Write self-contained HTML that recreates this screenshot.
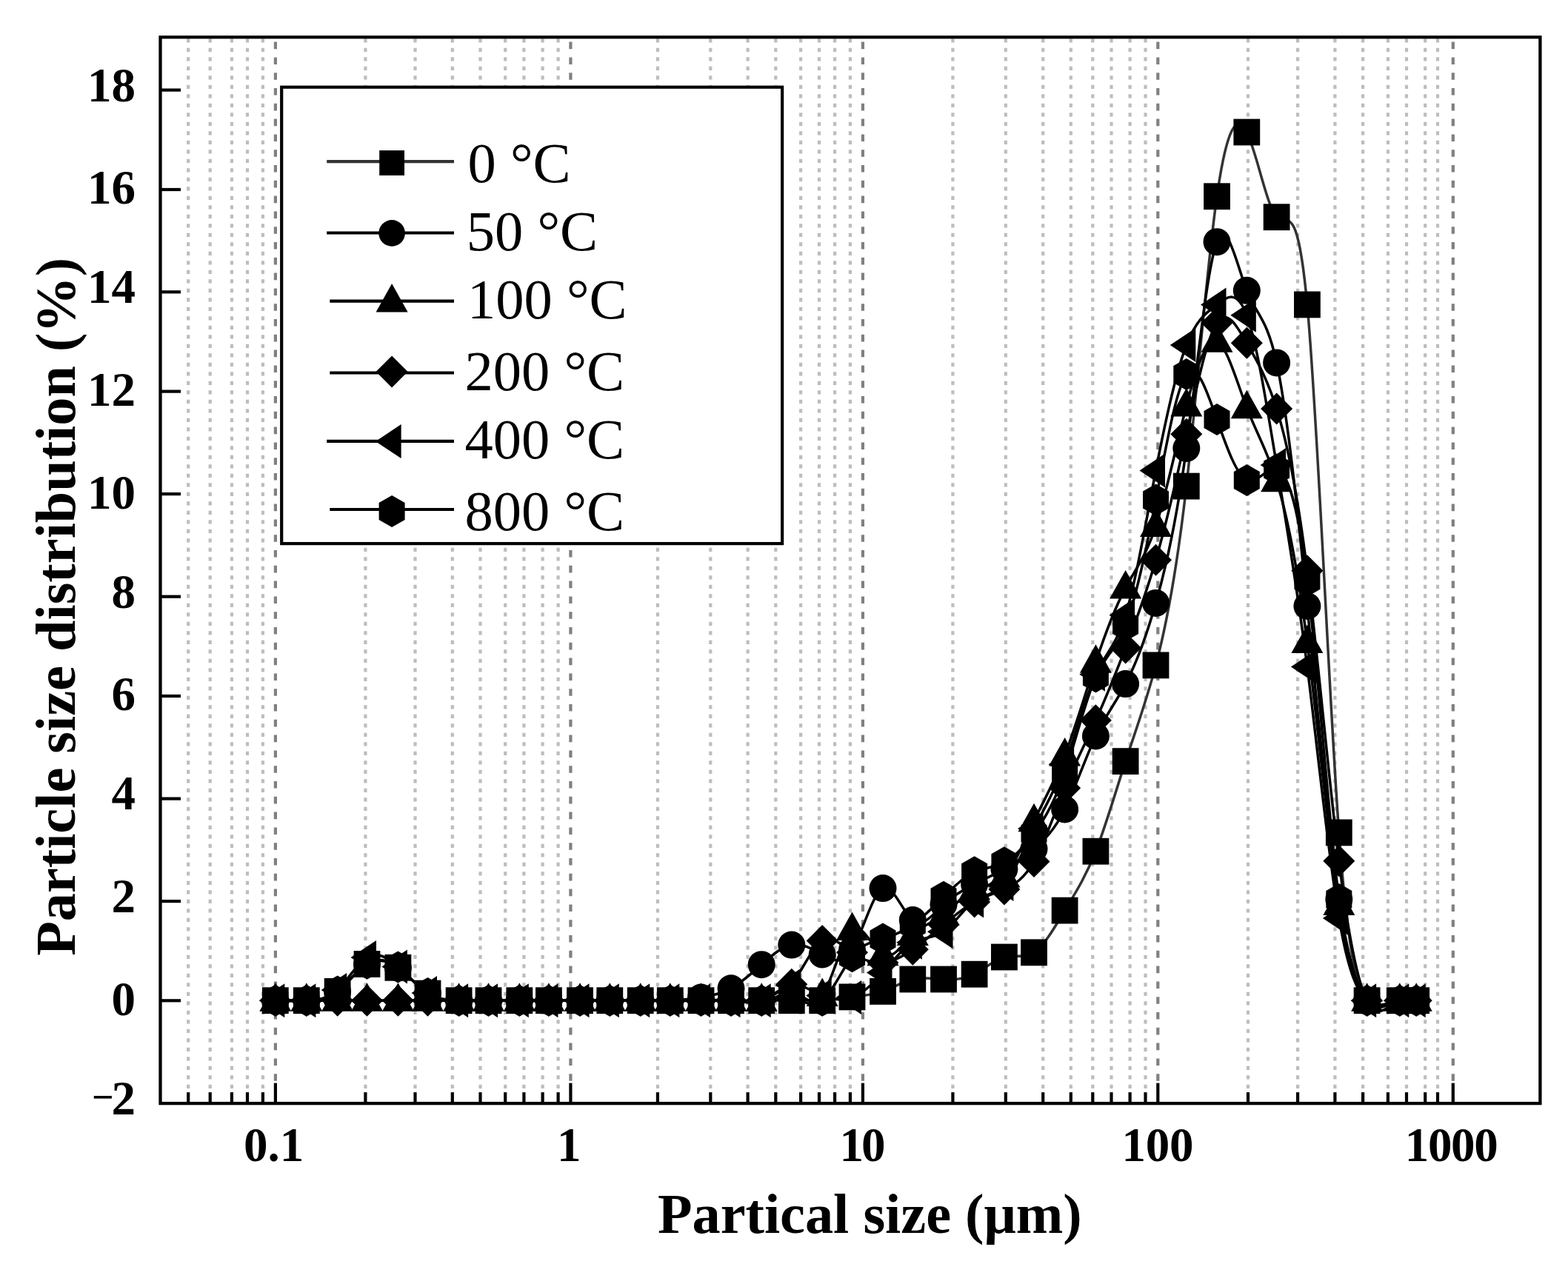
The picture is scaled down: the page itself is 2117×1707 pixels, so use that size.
<!DOCTYPE html>
<html lang="en">
<head>
<meta charset="utf-8">
<title>Particle size distribution</title>
<style>
html,body{margin:0;padding:0;background:#fff;}
body{width:2117px;height:1707px;overflow:hidden;}
svg{display:block;}
</style>
</head>
<body>
<svg width="2117" height="1707" viewBox="0 0 2117 1707">
<rect x="0" y="0" width="2117" height="1707" fill="#fff"/>
<g id="grid" fill="none" stroke-width="4.2">
<line x1="254.2" y1="52.2" x2="254.2" y2="1476.1" stroke="#bdbdbd" stroke-dasharray="5.4 7.1"/>
<line x1="283.7" y1="52.2" x2="283.7" y2="1476.1" stroke="#bdbdbd" stroke-dasharray="5.4 7.1"/>
<line x1="312.9" y1="52.2" x2="312.9" y2="1476.1" stroke="#bdbdbd" stroke-dasharray="5.4 7.1"/>
<line x1="334.0" y1="52.2" x2="334.0" y2="1476.1" stroke="#bdbdbd" stroke-dasharray="5.4 7.1"/>
<line x1="354.9" y1="52.2" x2="354.9" y2="1476.1" stroke="#bdbdbd" stroke-dasharray="5.4 7.1"/>
<line x1="493.4" y1="52.2" x2="493.4" y2="1476.1" stroke="#bdbdbd" stroke-dasharray="5.4 7.1"/>
<line x1="560.5" y1="52.2" x2="560.5" y2="1476.1" stroke="#bdbdbd" stroke-dasharray="5.4 7.1"/>
<line x1="610.8" y1="52.2" x2="610.8" y2="1476.1" stroke="#bdbdbd" stroke-dasharray="5.4 7.1"/>
<line x1="648.5" y1="52.2" x2="648.5" y2="1476.1" stroke="#bdbdbd" stroke-dasharray="5.4 7.1"/>
<line x1="682.2" y1="52.2" x2="682.2" y2="1476.1" stroke="#bdbdbd" stroke-dasharray="5.4 7.1"/>
<line x1="707.4" y1="52.2" x2="707.4" y2="1476.1" stroke="#bdbdbd" stroke-dasharray="5.4 7.1"/>
<line x1="732.6" y1="52.2" x2="732.6" y2="1476.1" stroke="#bdbdbd" stroke-dasharray="5.4 7.1"/>
<line x1="753.6" y1="52.2" x2="753.6" y2="1476.1" stroke="#bdbdbd" stroke-dasharray="5.4 7.1"/>
<line x1="887.9" y1="52.2" x2="887.9" y2="1476.1" stroke="#bdbdbd" stroke-dasharray="5.4 7.1"/>
<line x1="959.3" y1="52.2" x2="959.3" y2="1476.1" stroke="#bdbdbd" stroke-dasharray="5.4 7.1"/>
<line x1="1009.6" y1="52.2" x2="1009.6" y2="1476.1" stroke="#bdbdbd" stroke-dasharray="5.4 7.1"/>
<line x1="1047.3" y1="52.2" x2="1047.3" y2="1476.1" stroke="#bdbdbd" stroke-dasharray="5.4 7.1"/>
<line x1="1081.1" y1="52.2" x2="1081.1" y2="1476.1" stroke="#bdbdbd" stroke-dasharray="5.4 7.1"/>
<line x1="1106.0" y1="52.2" x2="1106.0" y2="1476.1" stroke="#bdbdbd" stroke-dasharray="5.4 7.1"/>
<line x1="1127.1" y1="52.2" x2="1127.1" y2="1476.1" stroke="#bdbdbd" stroke-dasharray="5.4 7.1"/>
<line x1="1147.9" y1="52.2" x2="1147.9" y2="1476.1" stroke="#bdbdbd" stroke-dasharray="5.4 7.1"/>
<line x1="1286.4" y1="52.2" x2="1286.4" y2="1476.1" stroke="#bdbdbd" stroke-dasharray="5.4 7.1"/>
<line x1="1357.8" y1="52.2" x2="1357.8" y2="1476.1" stroke="#bdbdbd" stroke-dasharray="5.4 7.1"/>
<line x1="1408.2" y1="52.2" x2="1408.2" y2="1476.1" stroke="#bdbdbd" stroke-dasharray="5.4 7.1"/>
<line x1="1445.8" y1="52.2" x2="1445.8" y2="1476.1" stroke="#bdbdbd" stroke-dasharray="5.4 7.1"/>
<line x1="1475.3" y1="52.2" x2="1475.3" y2="1476.1" stroke="#bdbdbd" stroke-dasharray="5.4 7.1"/>
<line x1="1500.5" y1="52.2" x2="1500.5" y2="1476.1" stroke="#bdbdbd" stroke-dasharray="5.4 7.1"/>
<line x1="1525.6" y1="52.2" x2="1525.6" y2="1476.1" stroke="#bdbdbd" stroke-dasharray="5.4 7.1"/>
<line x1="1546.5" y1="52.2" x2="1546.5" y2="1476.1" stroke="#bdbdbd" stroke-dasharray="5.4 7.1"/>
<line x1="1685.0" y1="52.2" x2="1685.0" y2="1476.1" stroke="#bdbdbd" stroke-dasharray="5.4 7.1"/>
<line x1="1752.1" y1="52.2" x2="1752.1" y2="1476.1" stroke="#bdbdbd" stroke-dasharray="5.4 7.1"/>
<line x1="1802.4" y1="52.2" x2="1802.4" y2="1476.1" stroke="#bdbdbd" stroke-dasharray="5.4 7.1"/>
<line x1="1840.1" y1="52.2" x2="1840.1" y2="1476.1" stroke="#bdbdbd" stroke-dasharray="5.4 7.1"/>
<line x1="1873.9" y1="52.2" x2="1873.9" y2="1476.1" stroke="#bdbdbd" stroke-dasharray="5.4 7.1"/>
<line x1="1899.0" y1="52.2" x2="1899.0" y2="1476.1" stroke="#bdbdbd" stroke-dasharray="5.4 7.1"/>
<line x1="1924.2" y1="52.2" x2="1924.2" y2="1476.1" stroke="#bdbdbd" stroke-dasharray="5.4 7.1"/>
<line x1="1941.0" y1="52.2" x2="1941.0" y2="1476.1" stroke="#bdbdbd" stroke-dasharray="5.4 7.1"/>
<line x1="371.9" y1="56.6" x2="371.9" y2="1463.1" stroke="#808080" stroke-dasharray="9.6 11.2"/>
<line x1="770.4" y1="56.6" x2="770.4" y2="1463.1" stroke="#808080" stroke-dasharray="9.6 11.2"/>
<line x1="1164.9" y1="56.6" x2="1164.9" y2="1463.1" stroke="#808080" stroke-dasharray="9.6 11.2"/>
<line x1="1563.3" y1="56.6" x2="1563.3" y2="1463.1" stroke="#808080" stroke-dasharray="9.6 11.2"/>
<line x1="1961.8" y1="56.6" x2="1961.8" y2="1463.1" stroke="#808080" stroke-dasharray="9.6 11.2"/>
</g>
<g id="ticks" stroke="#000" stroke-width="4.2" fill="none">
<line x1="254.2" y1="1490.1" x2="254.2" y2="1475.1"/>
<line x1="283.7" y1="1490.1" x2="283.7" y2="1475.1"/>
<line x1="312.9" y1="1490.1" x2="312.9" y2="1475.1"/>
<line x1="334.0" y1="1490.1" x2="334.0" y2="1475.1"/>
<line x1="354.9" y1="1490.1" x2="354.9" y2="1475.1"/>
<line x1="493.4" y1="1490.1" x2="493.4" y2="1475.1"/>
<line x1="560.5" y1="1490.1" x2="560.5" y2="1475.1"/>
<line x1="610.8" y1="1490.1" x2="610.8" y2="1475.1"/>
<line x1="648.5" y1="1490.1" x2="648.5" y2="1475.1"/>
<line x1="682.2" y1="1490.1" x2="682.2" y2="1475.1"/>
<line x1="707.4" y1="1490.1" x2="707.4" y2="1475.1"/>
<line x1="732.6" y1="1490.1" x2="732.6" y2="1475.1"/>
<line x1="753.6" y1="1490.1" x2="753.6" y2="1475.1"/>
<line x1="887.9" y1="1490.1" x2="887.9" y2="1475.1"/>
<line x1="959.3" y1="1490.1" x2="959.3" y2="1475.1"/>
<line x1="1009.6" y1="1490.1" x2="1009.6" y2="1475.1"/>
<line x1="1047.3" y1="1490.1" x2="1047.3" y2="1475.1"/>
<line x1="1081.1" y1="1490.1" x2="1081.1" y2="1475.1"/>
<line x1="1106.0" y1="1490.1" x2="1106.0" y2="1475.1"/>
<line x1="1127.1" y1="1490.1" x2="1127.1" y2="1475.1"/>
<line x1="1147.9" y1="1490.1" x2="1147.9" y2="1475.1"/>
<line x1="1286.4" y1="1490.1" x2="1286.4" y2="1475.1"/>
<line x1="1357.8" y1="1490.1" x2="1357.8" y2="1475.1"/>
<line x1="1408.2" y1="1490.1" x2="1408.2" y2="1475.1"/>
<line x1="1445.8" y1="1490.1" x2="1445.8" y2="1475.1"/>
<line x1="1475.3" y1="1490.1" x2="1475.3" y2="1475.1"/>
<line x1="1500.5" y1="1490.1" x2="1500.5" y2="1475.1"/>
<line x1="1525.6" y1="1490.1" x2="1525.6" y2="1475.1"/>
<line x1="1546.5" y1="1490.1" x2="1546.5" y2="1475.1"/>
<line x1="1685.0" y1="1490.1" x2="1685.0" y2="1475.1"/>
<line x1="1752.1" y1="1490.1" x2="1752.1" y2="1475.1"/>
<line x1="1802.4" y1="1490.1" x2="1802.4" y2="1475.1"/>
<line x1="1840.1" y1="1490.1" x2="1840.1" y2="1475.1"/>
<line x1="1873.9" y1="1490.1" x2="1873.9" y2="1475.1"/>
<line x1="1899.0" y1="1490.1" x2="1899.0" y2="1475.1"/>
<line x1="1924.2" y1="1490.1" x2="1924.2" y2="1475.1"/>
<line x1="1941.0" y1="1490.1" x2="1941.0" y2="1475.1"/>
<line x1="371.9" y1="1490.1" x2="371.9" y2="1462.6"/>
<line x1="770.4" y1="1490.1" x2="770.4" y2="1462.6"/>
<line x1="1164.9" y1="1490.1" x2="1164.9" y2="1462.6"/>
<line x1="1563.3" y1="1490.1" x2="1563.3" y2="1462.6"/>
<line x1="1961.8" y1="1490.1" x2="1961.8" y2="1462.6"/>
<line x1="216.5" y1="1351.3" x2="244.0" y2="1351.3"/>
<line x1="216.5" y1="1217.1" x2="244.0" y2="1217.1"/>
<line x1="216.5" y1="1078.6" x2="244.0" y2="1078.6"/>
<line x1="216.5" y1="940.0" x2="244.0" y2="940.0"/>
<line x1="216.5" y1="805.7" x2="244.0" y2="805.7"/>
<line x1="216.5" y1="667.1" x2="244.0" y2="667.1"/>
<line x1="216.5" y1="528.6" x2="244.0" y2="528.6"/>
<line x1="216.5" y1="394.3" x2="244.0" y2="394.3"/>
<line x1="216.5" y1="256.0" x2="244.0" y2="256.0"/>
<line x1="216.5" y1="121.6" x2="244.0" y2="121.6"/>
</g>
<g id="series">
<path d="M371.8 1351.2C385.8 1351.4 399.8 1351.7 413.8 1351.2C427.7 1350.7 441.7 1349.5 455.6 1338.9C468.9 1328.8 482.2 1310.2 495.5 1302.0C509.5 1293.5 523.4 1296.5 537.4 1306.8C550.8 1316.6 564.1 1333.0 577.5 1341.6C591.5 1350.7 605.6 1351.1 619.6 1351.2C632.9 1351.3 646.2 1351.2 659.5 1351.2C673.4 1351.2 687.4 1351.2 701.3 1351.2C714.5 1351.2 727.7 1351.2 740.9 1351.2C754.9 1351.2 769.0 1351.2 783.0 1351.2C796.4 1351.2 809.9 1351.2 823.3 1351.2C837.1 1351.2 850.9 1351.2 864.7 1351.2C878.1 1351.2 891.4 1351.2 904.8 1351.2C918.7 1351.2 932.6 1351.2 946.5 1351.2C960.0 1351.2 973.5 1351.2 987.0 1351.2C1000.7 1351.2 1014.5 1351.3 1028.2 1351.2C1041.7 1351.1 1055.3 1351.0 1068.8 1351.2C1082.6 1351.4 1096.4 1352.1 1110.2 1351.2C1123.6 1350.3 1137.1 1348.0 1150.5 1346.4C1164.3 1344.7 1178.2 1343.8 1192.0 1338.9C1205.4 1334.2 1218.9 1325.7 1232.3 1322.5C1246.2 1319.2 1260.1 1321.6 1274.0 1322.5C1287.9 1323.4 1301.7 1322.8 1315.6 1315.7C1329.0 1308.8 1342.5 1295.9 1355.9 1292.5C1369.3 1289.0 1382.6 1295.0 1396.0 1286.3C1409.9 1277.3 1423.7 1252.7 1437.6 1229.6C1451.5 1206.5 1465.5 1184.9 1479.4 1149.7C1492.8 1115.8 1506.2 1069.3 1519.6 1028.1C1533.2 986.3 1546.9 950.1 1560.5 898.4C1574.3 846.1 1588.0 778.0 1601.8 656.6C1615.5 535.5 1629.3 361.4 1643.0 265.2C1656.4 171.2 1669.9 151.7 1683.3 178.5C1696.7 205.3 1710.2 278.3 1723.6 293.2C1737.4 308.5 1751.1 262.8 1764.9 411.4C1779.2 565.8 1793.5 929.9 1807.8 1124.4C1820.4 1295.8 1833.0 1335.6 1845.6 1351.2C1860.3 1369.5 1875.1 1354.9 1889.8 1351.2C1897.3 1349.3 1904.7 1350.3 1912.2 1351.2" fill="none" stroke="#333" stroke-width="3.5" stroke-linejoin="round"/>
<path d="M371.8 1351.2C385.8 1351.4 399.8 1351.7 413.8 1351.2C427.7 1350.7 441.7 1349.5 455.6 1338.9C468.9 1328.8 482.2 1310.2 495.5 1302.0C509.5 1293.5 523.4 1296.5 537.4 1306.8C550.8 1316.6 564.1 1333.0 577.5 1341.6C591.5 1350.7 605.6 1351.1 619.6 1351.2C632.9 1351.3 646.2 1351.2 659.5 1351.2C673.4 1351.2 687.4 1351.2 701.3 1351.2C714.5 1351.2 727.7 1351.2 740.9 1351.2C754.9 1351.2 769.0 1351.2 783.0 1351.2C796.4 1351.2 809.9 1351.2 823.3 1351.2C837.1 1351.2 850.9 1351.1 864.7 1351.2C878.1 1351.3 891.4 1351.7 904.8 1351.2C918.7 1350.7 932.6 1349.3 946.5 1347.1C960.0 1345.0 973.5 1342.2 987.0 1334.8C1000.7 1327.3 1014.5 1315.0 1028.2 1302.7C1041.7 1290.6 1055.3 1278.5 1068.8 1276.1C1082.6 1273.6 1096.4 1281.1 1110.2 1289.0C1123.6 1296.7 1137.1 1304.8 1150.5 1282.9C1164.3 1260.4 1178.2 1206.1 1192.0 1199.6C1205.4 1193.2 1218.9 1232.0 1232.3 1242.6C1246.2 1253.6 1260.1 1234.6 1274.0 1221.4C1287.9 1208.3 1301.7 1201.0 1315.6 1194.1C1329.0 1187.4 1342.5 1181.2 1355.9 1173.6C1369.3 1166.1 1382.6 1157.4 1396.0 1146.3C1409.9 1134.8 1423.7 1120.8 1437.6 1093.0C1451.5 1065.1 1465.5 1023.3 1479.4 994.0C1492.8 965.8 1506.2 949.3 1519.6 923.6C1533.2 897.5 1546.9 861.8 1560.5 814.4C1574.3 766.4 1588.0 706.5 1601.8 605.4C1615.5 504.5 1629.3 362.5 1643.0 326.7C1656.4 291.7 1669.9 358.2 1683.3 392.3C1696.7 426.4 1710.2 428.0 1723.6 489.9C1737.4 553.4 1751.1 680.0 1764.9 818.5C1779.2 962.3 1793.5 1118.7 1807.8 1214.6C1820.4 1299.1 1833.0 1336.5 1845.6 1351.2C1860.3 1368.4 1875.1 1354.7 1889.8 1351.2C1897.3 1349.4 1904.7 1350.3 1912.2 1351.2" fill="none" stroke="#000" stroke-width="3.5" stroke-linejoin="round"/>
<path d="M371.8 1351.2C385.8 1351.2 399.8 1351.2 413.8 1351.2C427.7 1351.2 441.7 1351.2 455.6 1351.2C468.9 1351.2 482.2 1351.2 495.5 1351.2C509.5 1351.2 523.4 1351.2 537.4 1351.2C550.8 1351.2 564.1 1351.2 577.5 1351.2C591.5 1351.2 605.6 1351.2 619.6 1351.2C632.9 1351.2 646.2 1351.2 659.5 1351.2C673.4 1351.2 687.4 1351.2 701.3 1351.2C714.5 1351.2 727.7 1351.2 740.9 1351.2C754.9 1351.2 769.0 1351.2 783.0 1351.2C796.4 1351.2 809.9 1351.2 823.3 1351.2C837.1 1351.2 850.9 1351.2 864.7 1351.2C878.1 1351.2 891.4 1351.1 904.8 1351.2C918.7 1351.3 932.6 1351.6 946.5 1351.2C960.0 1350.9 973.5 1349.9 987.0 1351.2C1000.7 1352.5 1014.5 1356.1 1028.2 1351.2C1041.7 1346.4 1055.3 1333.4 1068.8 1337.5C1082.6 1341.8 1096.4 1363.9 1110.2 1344.4C1123.6 1325.4 1137.1 1266.9 1150.5 1255.6C1164.3 1243.9 1178.2 1282.2 1192.0 1289.7C1205.4 1297.0 1218.9 1275.2 1232.3 1262.4C1246.2 1249.2 1260.1 1245.5 1274.0 1235.1C1287.9 1224.7 1301.7 1207.4 1315.6 1200.9C1329.0 1194.6 1342.5 1198.4 1355.9 1183.9C1369.3 1169.4 1382.6 1136.7 1396.0 1108.7C1409.9 1079.7 1423.7 1055.7 1437.6 1019.9C1451.5 984.0 1465.5 936.1 1479.4 894.3C1492.8 854.0 1506.2 819.3 1519.6 793.9C1533.2 768.0 1546.9 751.9 1560.5 710.5C1574.3 668.8 1588.0 601.4 1601.8 548.0C1615.5 494.7 1629.3 455.4 1643.0 461.3C1656.4 466.9 1669.9 515.8 1683.3 550.7C1696.7 585.6 1710.2 606.6 1723.6 649.8C1737.4 694.0 1751.1 761.6 1764.9 867.6C1779.2 977.8 1793.5 1129.4 1807.8 1221.4C1820.4 1302.5 1833.0 1337.4 1845.6 1351.2C1860.3 1367.3 1875.1 1354.4 1889.8 1351.2C1897.3 1349.6 1904.7 1350.4 1912.2 1351.2" fill="none" stroke="#000" stroke-width="3.5" stroke-linejoin="round"/>
<path d="M371.8 1351.2C385.8 1351.2 399.8 1351.2 413.8 1351.2C427.7 1351.2 441.7 1351.2 455.6 1351.2C468.9 1351.2 482.2 1351.2 495.5 1351.2C509.5 1351.2 523.4 1351.2 537.4 1351.2C550.8 1351.2 564.1 1351.2 577.5 1351.2C591.5 1351.2 605.6 1351.2 619.6 1351.2C632.9 1351.2 646.2 1351.2 659.5 1351.2C673.4 1351.2 687.4 1351.2 701.3 1351.2C714.5 1351.2 727.7 1351.2 740.9 1351.2C754.9 1351.2 769.0 1351.2 783.0 1351.2C796.4 1351.2 809.9 1351.2 823.3 1351.2C837.1 1351.2 850.9 1351.2 864.7 1351.2C878.1 1351.2 891.4 1351.2 904.8 1351.2C918.7 1351.2 932.6 1351.3 946.5 1351.2C960.0 1351.1 973.5 1350.9 987.0 1351.2C1000.7 1351.5 1014.5 1352.4 1028.2 1351.2C1041.7 1350.0 1055.3 1346.7 1068.8 1329.3C1082.6 1311.6 1096.4 1279.1 1110.2 1270.6C1123.6 1262.3 1137.1 1276.6 1150.5 1286.3C1164.3 1296.3 1178.2 1301.3 1192.0 1300.0C1205.4 1298.7 1218.9 1291.6 1232.3 1282.2C1246.2 1272.5 1260.1 1260.5 1274.0 1248.8C1287.9 1237.0 1301.7 1225.6 1315.6 1218.0C1329.0 1210.7 1342.5 1206.9 1355.9 1200.9C1369.3 1195.0 1382.6 1186.9 1396.0 1163.4C1409.9 1139.0 1423.7 1098.1 1437.6 1064.3C1451.5 1030.4 1465.5 1003.7 1479.4 972.8C1492.8 943.2 1506.2 909.7 1519.6 875.1C1533.2 840.0 1546.9 803.7 1560.5 756.3C1574.3 708.5 1588.0 649.3 1601.8 586.2C1615.5 523.3 1629.3 456.6 1643.0 436.0C1656.4 415.8 1669.9 439.9 1683.3 463.3C1696.7 486.7 1710.2 509.4 1723.6 552.1C1737.4 595.8 1751.1 660.6 1764.9 770.7C1779.2 885.0 1793.5 1048.3 1807.8 1162.7C1820.4 1263.5 1833.0 1326.4 1845.6 1351.2C1860.3 1380.2 1875.1 1357.0 1889.8 1351.2C1897.3 1348.2 1904.7 1349.7 1912.2 1351.2" fill="none" stroke="#000" stroke-width="3.5" stroke-linejoin="round"/>
<path d="M371.8 1351.2C385.8 1351.4 399.8 1351.6 413.8 1351.2C427.7 1350.8 441.7 1349.8 455.6 1336.9C468.9 1324.5 482.2 1301.2 495.5 1293.1C509.5 1284.7 523.4 1293.1 537.4 1305.4C550.8 1317.2 564.1 1332.6 577.5 1341.0C591.5 1349.7 605.6 1350.8 619.6 1351.2C632.9 1351.6 646.2 1351.3 659.5 1351.2C673.4 1351.1 687.4 1351.2 701.3 1351.2C714.5 1351.2 727.7 1351.2 740.9 1351.2C754.9 1351.2 769.0 1351.2 783.0 1351.2C796.4 1351.2 809.9 1351.2 823.3 1351.2C837.1 1351.2 850.9 1351.2 864.7 1351.2C878.1 1351.2 891.4 1351.1 904.8 1351.2C918.7 1351.3 932.6 1351.6 946.5 1351.2C960.0 1350.8 973.5 1349.9 987.0 1351.2C1000.7 1352.5 1014.5 1356.3 1028.2 1351.2C1041.7 1346.2 1055.3 1332.7 1068.8 1330.7C1082.6 1328.6 1096.4 1338.5 1110.2 1344.4C1123.6 1350.1 1137.1 1352.1 1150.5 1347.1C1164.3 1341.9 1178.2 1329.3 1192.0 1313.6C1205.4 1298.4 1218.9 1280.3 1232.3 1272.7C1246.2 1264.7 1260.1 1267.9 1274.0 1258.3C1287.9 1248.7 1301.7 1226.4 1315.6 1216.6C1329.0 1207.2 1342.5 1209.5 1355.9 1194.1C1369.3 1178.8 1382.6 1145.9 1396.0 1119.0C1409.9 1091.1 1423.7 1069.6 1437.6 1032.2C1451.5 994.7 1465.5 941.0 1479.4 910.7C1492.8 881.5 1506.2 873.8 1519.6 830.8C1533.2 786.9 1546.9 706.5 1560.5 635.4C1574.3 563.7 1588.0 501.5 1601.8 466.0C1615.5 430.6 1629.3 421.8 1643.0 411.4C1656.4 401.2 1669.9 389.4 1683.3 425.7C1696.7 462.0 1710.2 546.4 1723.6 627.9C1737.4 711.4 1751.1 791.8 1764.9 900.4C1779.2 1013.2 1793.5 1156.4 1807.8 1239.9C1820.4 1313.4 1833.0 1340.5 1845.6 1351.2C1860.3 1363.7 1875.1 1353.7 1889.8 1351.2C1897.3 1349.9 1904.7 1350.6 1912.2 1351.2" fill="none" stroke="#000" stroke-width="3.5" stroke-linejoin="round"/>
<path d="M371.8 1351.2C385.8 1351.4 399.8 1351.6 413.8 1351.2C427.7 1350.8 441.7 1349.6 455.6 1338.9C468.9 1328.7 482.2 1309.7 495.5 1301.3C509.5 1292.6 523.4 1295.7 537.4 1306.1C550.8 1316.1 564.1 1332.9 577.5 1341.6C591.5 1350.8 605.6 1351.1 619.6 1351.2C632.9 1351.3 646.2 1351.2 659.5 1351.2C673.4 1351.2 687.4 1351.2 701.3 1351.2C714.5 1351.2 727.7 1351.2 740.9 1351.2C754.9 1351.2 769.0 1351.2 783.0 1351.2C796.4 1351.2 809.9 1351.2 823.3 1351.2C837.1 1351.2 850.9 1351.2 864.7 1351.2C878.1 1351.2 891.4 1351.2 904.8 1351.2C918.7 1351.2 932.6 1351.3 946.5 1351.2C960.0 1351.1 973.5 1350.7 987.0 1351.2C1000.7 1351.7 1014.5 1353.0 1028.2 1351.2C1041.7 1349.5 1055.3 1344.7 1068.8 1347.8C1082.6 1350.9 1096.4 1362.1 1110.2 1351.2C1123.6 1340.6 1137.1 1308.9 1150.5 1291.8C1164.3 1274.1 1178.2 1271.9 1192.0 1267.9C1205.4 1263.9 1218.9 1258.3 1232.3 1248.8C1246.2 1238.9 1260.1 1224.9 1274.0 1211.2C1287.9 1197.5 1301.7 1184.2 1315.6 1177.7C1329.0 1171.5 1342.5 1171.7 1355.9 1164.7C1369.3 1157.8 1382.6 1143.8 1396.0 1125.8C1409.9 1107.1 1423.7 1084.1 1437.6 1043.9C1451.5 1003.4 1465.5 945.4 1479.4 914.1C1492.8 883.9 1506.2 878.4 1519.6 844.4C1533.2 809.9 1546.9 746.0 1560.5 675.0C1574.3 603.4 1588.0 524.7 1601.8 505.6C1615.5 486.7 1629.3 527.2 1643.0 566.4C1656.4 604.8 1669.9 642.0 1683.3 648.4C1696.7 654.7 1710.2 630.2 1723.6 634.1C1737.4 638.0 1751.1 671.7 1764.9 784.3C1779.2 901.3 1793.5 1103.3 1807.8 1214.6C1820.4 1312.7 1833.0 1340.3 1845.6 1351.2C1860.3 1363.9 1875.1 1353.8 1889.8 1351.2C1897.3 1349.9 1904.7 1350.5 1912.2 1351.2" fill="none" stroke="#000" stroke-width="3.5" stroke-linejoin="round"/>
<g fill="#000">
<rect x="353.9" y="1333.3" width="35.8" height="35.8"/>
<rect x="395.9" y="1333.3" width="35.8" height="35.8"/>
<rect x="437.7" y="1321.0" width="35.8" height="35.8"/>
<rect x="477.6" y="1284.1" width="35.8" height="35.8"/>
<rect x="519.5" y="1288.9" width="35.8" height="35.8"/>
<rect x="559.6" y="1323.7" width="35.8" height="35.8"/>
<rect x="601.7" y="1333.3" width="35.8" height="35.8"/>
<rect x="641.6" y="1333.3" width="35.8" height="35.8"/>
<rect x="683.4" y="1333.3" width="35.8" height="35.8"/>
<rect x="723.0" y="1333.3" width="35.8" height="35.8"/>
<rect x="765.1" y="1333.3" width="35.8" height="35.8"/>
<rect x="805.4" y="1333.3" width="35.8" height="35.8"/>
<rect x="846.8" y="1333.3" width="35.8" height="35.8"/>
<rect x="886.9" y="1333.3" width="35.8" height="35.8"/>
<rect x="928.6" y="1333.3" width="35.8" height="35.8"/>
<rect x="969.1" y="1333.3" width="35.8" height="35.8"/>
<rect x="1010.3" y="1333.3" width="35.8" height="35.8"/>
<rect x="1050.9" y="1333.3" width="35.8" height="35.8"/>
<rect x="1092.3" y="1333.3" width="35.8" height="35.8"/>
<rect x="1132.6" y="1328.5" width="35.8" height="35.8"/>
<rect x="1174.1" y="1321.0" width="35.8" height="35.8"/>
<rect x="1214.4" y="1304.6" width="35.8" height="35.8"/>
<rect x="1256.1" y="1304.6" width="35.8" height="35.8"/>
<rect x="1297.7" y="1297.8" width="35.8" height="35.8"/>
<rect x="1338.0" y="1274.6" width="35.8" height="35.8"/>
<rect x="1378.1" y="1268.4" width="35.8" height="35.8"/>
<rect x="1419.7" y="1211.7" width="35.8" height="35.8"/>
<rect x="1461.5" y="1131.8" width="35.8" height="35.8"/>
<rect x="1501.7" y="1010.2" width="35.8" height="35.8"/>
<rect x="1542.6" y="880.5" width="35.8" height="35.8"/>
<rect x="1583.9" y="638.7" width="35.8" height="35.8"/>
<rect x="1625.1" y="247.3" width="35.8" height="35.8"/>
<rect x="1665.4" y="160.6" width="35.8" height="35.8"/>
<rect x="1705.7" y="275.3" width="35.8" height="35.8"/>
<rect x="1747.0" y="393.5" width="35.8" height="35.8"/>
<rect x="1789.9" y="1106.5" width="35.8" height="35.8"/>
<rect x="1827.7" y="1333.3" width="35.8" height="35.8"/>
<rect x="1871.9" y="1333.3" width="35.8" height="35.8"/>
<rect x="1894.3" y="1333.3" width="35.8" height="35.8"/>
</g>
<g fill="#000">
<circle cx="371.8" cy="1351.2" r="18.5"/>
<circle cx="413.8" cy="1351.2" r="18.5"/>
<circle cx="455.6" cy="1338.9" r="18.5"/>
<circle cx="495.5" cy="1302.0" r="18.5"/>
<circle cx="537.4" cy="1306.8" r="18.5"/>
<circle cx="577.5" cy="1341.6" r="18.5"/>
<circle cx="619.6" cy="1351.2" r="18.5"/>
<circle cx="659.5" cy="1351.2" r="18.5"/>
<circle cx="701.3" cy="1351.2" r="18.5"/>
<circle cx="740.9" cy="1351.2" r="18.5"/>
<circle cx="783.0" cy="1351.2" r="18.5"/>
<circle cx="823.3" cy="1351.2" r="18.5"/>
<circle cx="864.7" cy="1351.2" r="18.5"/>
<circle cx="904.8" cy="1351.2" r="18.5"/>
<circle cx="946.5" cy="1347.1" r="18.5"/>
<circle cx="987.0" cy="1334.8" r="18.5"/>
<circle cx="1028.2" cy="1302.7" r="18.5"/>
<circle cx="1068.8" cy="1276.1" r="18.5"/>
<circle cx="1110.2" cy="1289.0" r="18.5"/>
<circle cx="1150.5" cy="1282.9" r="18.5"/>
<circle cx="1192.0" cy="1199.6" r="18.5"/>
<circle cx="1232.3" cy="1242.6" r="18.5"/>
<circle cx="1274.0" cy="1221.4" r="18.5"/>
<circle cx="1315.6" cy="1194.1" r="18.5"/>
<circle cx="1355.9" cy="1173.6" r="18.5"/>
<circle cx="1396.0" cy="1146.3" r="18.5"/>
<circle cx="1437.6" cy="1093.0" r="18.5"/>
<circle cx="1479.4" cy="994.0" r="18.5"/>
<circle cx="1519.6" cy="923.6" r="18.5"/>
<circle cx="1560.5" cy="814.4" r="18.5"/>
<circle cx="1601.8" cy="605.4" r="18.5"/>
<circle cx="1643.0" cy="326.7" r="18.5"/>
<circle cx="1683.3" cy="392.3" r="18.5"/>
<circle cx="1723.6" cy="489.9" r="18.5"/>
<circle cx="1764.9" cy="818.5" r="18.5"/>
<circle cx="1807.8" cy="1214.6" r="18.5"/>
<circle cx="1845.6" cy="1351.2" r="18.5"/>
<circle cx="1889.8" cy="1351.2" r="18.5"/>
<circle cx="1912.2" cy="1351.2" r="18.5"/>
</g>
<g fill="#000">
<path d="M371.8 1327.2L393.3 1365.7L350.3 1365.7Z"/>
<path d="M413.8 1327.2L435.3 1365.7L392.3 1365.7Z"/>
<path d="M455.6 1327.2L477.1 1365.7L434.1 1365.7Z"/>
<path d="M495.5 1327.2L517.0 1365.7L474.0 1365.7Z"/>
<path d="M537.4 1327.2L558.9 1365.7L515.9 1365.7Z"/>
<path d="M577.5 1327.2L599.0 1365.7L556.0 1365.7Z"/>
<path d="M619.6 1327.2L641.1 1365.7L598.1 1365.7Z"/>
<path d="M659.5 1327.2L681.0 1365.7L638.0 1365.7Z"/>
<path d="M701.3 1327.2L722.8 1365.7L679.8 1365.7Z"/>
<path d="M740.9 1327.2L762.4 1365.7L719.4 1365.7Z"/>
<path d="M783.0 1327.2L804.5 1365.7L761.5 1365.7Z"/>
<path d="M823.3 1327.2L844.8 1365.7L801.8 1365.7Z"/>
<path d="M864.7 1327.2L886.2 1365.7L843.2 1365.7Z"/>
<path d="M904.8 1327.2L926.3 1365.7L883.3 1365.7Z"/>
<path d="M946.5 1327.2L968.0 1365.7L925.0 1365.7Z"/>
<path d="M987.0 1327.2L1008.5 1365.7L965.5 1365.7Z"/>
<path d="M1028.2 1327.2L1049.7 1365.7L1006.7 1365.7Z"/>
<path d="M1068.8 1313.5L1090.3 1352.0L1047.3 1352.0Z"/>
<path d="M1110.2 1320.4L1131.7 1358.9L1088.7 1358.9Z"/>
<path d="M1150.5 1231.6L1172.0 1270.1L1129.0 1270.1Z"/>
<path d="M1192.0 1265.7L1213.5 1304.2L1170.5 1304.2Z"/>
<path d="M1232.3 1238.4L1253.8 1276.9L1210.8 1276.9Z"/>
<path d="M1274.0 1211.1L1295.5 1249.6L1252.5 1249.6Z"/>
<path d="M1315.6 1176.9L1337.1 1215.4L1294.1 1215.4Z"/>
<path d="M1355.9 1159.9L1377.4 1198.4L1334.4 1198.4Z"/>
<path d="M1396.0 1084.7L1417.5 1123.2L1374.5 1123.2Z"/>
<path d="M1437.6 995.9L1459.1 1034.4L1416.1 1034.4Z"/>
<path d="M1479.4 870.3L1500.9 908.8L1457.9 908.8Z"/>
<path d="M1519.6 769.9L1541.1 808.4L1498.1 808.4Z"/>
<path d="M1560.5 686.5L1582.0 725.0L1539.0 725.0Z"/>
<path d="M1601.8 524.0L1623.3 562.5L1580.3 562.5Z"/>
<path d="M1643.0 437.3L1664.5 475.8L1621.5 475.8Z"/>
<path d="M1683.3 526.7L1704.8 565.2L1661.8 565.2Z"/>
<path d="M1723.6 625.8L1745.1 664.3L1702.1 664.3Z"/>
<path d="M1764.9 843.6L1786.4 882.1L1743.4 882.1Z"/>
<path d="M1807.8 1197.4L1829.3 1235.9L1786.3 1235.9Z"/>
<path d="M1845.6 1327.2L1867.1 1365.7L1824.1 1365.7Z"/>
<path d="M1889.8 1327.2L1911.3 1365.7L1868.3 1365.7Z"/>
<path d="M1912.2 1327.2L1933.7 1365.7L1890.7 1365.7Z"/>
</g>
<g fill="#000">
<path d="M371.8 1329.7L393.3 1351.2L371.8 1372.7L350.3 1351.2Z"/>
<path d="M413.8 1329.7L435.3 1351.2L413.8 1372.7L392.3 1351.2Z"/>
<path d="M455.6 1329.7L477.1 1351.2L455.6 1372.7L434.1 1351.2Z"/>
<path d="M495.5 1329.7L517.0 1351.2L495.5 1372.7L474.0 1351.2Z"/>
<path d="M537.4 1329.7L558.9 1351.2L537.4 1372.7L515.9 1351.2Z"/>
<path d="M577.5 1329.7L599.0 1351.2L577.5 1372.7L556.0 1351.2Z"/>
<path d="M619.6 1329.7L641.1 1351.2L619.6 1372.7L598.1 1351.2Z"/>
<path d="M659.5 1329.7L681.0 1351.2L659.5 1372.7L638.0 1351.2Z"/>
<path d="M701.3 1329.7L722.8 1351.2L701.3 1372.7L679.8 1351.2Z"/>
<path d="M740.9 1329.7L762.4 1351.2L740.9 1372.7L719.4 1351.2Z"/>
<path d="M783.0 1329.7L804.5 1351.2L783.0 1372.7L761.5 1351.2Z"/>
<path d="M823.3 1329.7L844.8 1351.2L823.3 1372.7L801.8 1351.2Z"/>
<path d="M864.7 1329.7L886.2 1351.2L864.7 1372.7L843.2 1351.2Z"/>
<path d="M904.8 1329.7L926.3 1351.2L904.8 1372.7L883.3 1351.2Z"/>
<path d="M946.5 1329.7L968.0 1351.2L946.5 1372.7L925.0 1351.2Z"/>
<path d="M987.0 1329.7L1008.5 1351.2L987.0 1372.7L965.5 1351.2Z"/>
<path d="M1028.2 1329.7L1049.7 1351.2L1028.2 1372.7L1006.7 1351.2Z"/>
<path d="M1068.8 1307.8L1090.3 1329.3L1068.8 1350.8L1047.3 1329.3Z"/>
<path d="M1110.2 1249.1L1131.7 1270.6L1110.2 1292.1L1088.7 1270.6Z"/>
<path d="M1150.5 1264.8L1172.0 1286.3L1150.5 1307.8L1129.0 1286.3Z"/>
<path d="M1192.0 1278.5L1213.5 1300.0L1192.0 1321.5L1170.5 1300.0Z"/>
<path d="M1232.3 1260.7L1253.8 1282.2L1232.3 1303.7L1210.8 1282.2Z"/>
<path d="M1274.0 1227.2L1295.5 1248.8L1274.0 1270.2L1252.5 1248.8Z"/>
<path d="M1315.6 1196.5L1337.1 1218.0L1315.6 1239.5L1294.1 1218.0Z"/>
<path d="M1355.9 1179.4L1377.4 1200.9L1355.9 1222.4L1334.4 1200.9Z"/>
<path d="M1396.0 1141.9L1417.5 1163.4L1396.0 1184.9L1374.5 1163.4Z"/>
<path d="M1437.6 1042.8L1459.1 1064.3L1437.6 1085.8L1416.1 1064.3Z"/>
<path d="M1479.4 951.3L1500.9 972.8L1479.4 994.3L1457.9 972.8Z"/>
<path d="M1519.6 853.6L1541.1 875.1L1519.6 896.6L1498.1 875.1Z"/>
<path d="M1560.5 734.8L1582.0 756.3L1560.5 777.8L1539.0 756.3Z"/>
<path d="M1601.8 564.7L1623.3 586.2L1601.8 607.7L1580.3 586.2Z"/>
<path d="M1643.0 414.5L1664.5 436.0L1643.0 457.5L1621.5 436.0Z"/>
<path d="M1683.3 441.8L1704.8 463.3L1683.3 484.8L1661.8 463.3Z"/>
<path d="M1723.6 530.6L1745.1 552.1L1723.6 573.6L1702.1 552.1Z"/>
<path d="M1764.9 749.2L1786.4 770.7L1764.9 792.2L1743.4 770.7Z"/>
<path d="M1807.8 1141.2L1829.3 1162.7L1807.8 1184.2L1786.3 1162.7Z"/>
<path d="M1845.6 1329.7L1867.1 1351.2L1845.6 1372.7L1824.1 1351.2Z"/>
<path d="M1889.8 1329.7L1911.3 1351.2L1889.8 1372.7L1868.3 1351.2Z"/>
<path d="M1912.2 1329.7L1933.7 1351.2L1912.2 1372.7L1890.7 1351.2Z"/>
</g>
<g fill="#000">
<path d="M349.8 1351.2L384.3 1328.2L384.3 1374.2Z"/>
<path d="M391.8 1351.2L426.3 1328.2L426.3 1374.2Z"/>
<path d="M433.6 1336.9L468.1 1313.9L468.1 1359.9Z"/>
<path d="M473.5 1293.1L508.0 1270.1L508.0 1316.1Z"/>
<path d="M515.4 1305.4L549.9 1282.4L549.9 1328.4Z"/>
<path d="M555.5 1341.0L590.0 1318.0L590.0 1364.0Z"/>
<path d="M597.6 1351.2L632.1 1328.2L632.1 1374.2Z"/>
<path d="M637.5 1351.2L672.0 1328.2L672.0 1374.2Z"/>
<path d="M679.3 1351.2L713.8 1328.2L713.8 1374.2Z"/>
<path d="M718.9 1351.2L753.4 1328.2L753.4 1374.2Z"/>
<path d="M761.0 1351.2L795.5 1328.2L795.5 1374.2Z"/>
<path d="M801.3 1351.2L835.8 1328.2L835.8 1374.2Z"/>
<path d="M842.7 1351.2L877.2 1328.2L877.2 1374.2Z"/>
<path d="M882.8 1351.2L917.3 1328.2L917.3 1374.2Z"/>
<path d="M924.5 1351.2L959.0 1328.2L959.0 1374.2Z"/>
<path d="M965.0 1351.2L999.5 1328.2L999.5 1374.2Z"/>
<path d="M1006.2 1351.2L1040.7 1328.2L1040.7 1374.2Z"/>
<path d="M1046.8 1330.7L1081.3 1307.7L1081.3 1353.7Z"/>
<path d="M1088.2 1344.4L1122.7 1321.4L1122.7 1367.4Z"/>
<path d="M1128.5 1347.1L1163.0 1324.1L1163.0 1370.1Z"/>
<path d="M1170.0 1313.6L1204.5 1290.6L1204.5 1336.6Z"/>
<path d="M1210.3 1272.7L1244.8 1249.7L1244.8 1295.7Z"/>
<path d="M1252.0 1258.3L1286.5 1235.3L1286.5 1281.3Z"/>
<path d="M1293.6 1216.6L1328.1 1193.6L1328.1 1239.6Z"/>
<path d="M1333.9 1194.1L1368.4 1171.1L1368.4 1217.1Z"/>
<path d="M1374.0 1119.0L1408.5 1096.0L1408.5 1142.0Z"/>
<path d="M1415.6 1032.2L1450.1 1009.2L1450.1 1055.2Z"/>
<path d="M1457.4 910.7L1491.9 887.7L1491.9 933.7Z"/>
<path d="M1497.6 830.8L1532.1 807.8L1532.1 853.8Z"/>
<path d="M1538.5 635.4L1573.0 612.4L1573.0 658.4Z"/>
<path d="M1579.8 466.0L1614.3 443.0L1614.3 489.0Z"/>
<path d="M1621.0 411.4L1655.5 388.4L1655.5 434.4Z"/>
<path d="M1661.3 425.7L1695.8 402.7L1695.8 448.7Z"/>
<path d="M1701.6 627.9L1736.1 604.9L1736.1 650.9Z"/>
<path d="M1742.9 900.4L1777.4 877.4L1777.4 923.4Z"/>
<path d="M1785.8 1239.9L1820.3 1216.9L1820.3 1262.9Z"/>
<path d="M1823.6 1351.2L1858.1 1328.2L1858.1 1374.2Z"/>
<path d="M1867.8 1351.2L1902.3 1328.2L1902.3 1374.2Z"/>
<path d="M1890.2 1351.2L1924.7 1328.2L1924.7 1374.2Z"/>
</g>
<g fill="#000">
<path d="M371.8 1329.7L389.3 1339.7L389.3 1362.7L371.8 1372.7L354.3 1362.7L354.3 1339.7Z"/>
<path d="M413.8 1329.7L431.3 1339.7L431.3 1362.7L413.8 1372.7L396.3 1362.7L396.3 1339.7Z"/>
<path d="M455.6 1317.4L473.1 1327.4L473.1 1350.4L455.6 1360.4L438.1 1350.4L438.1 1327.4Z"/>
<path d="M495.5 1279.8L513.0 1289.8L513.0 1312.8L495.5 1322.8L478.0 1312.8L478.0 1289.8Z"/>
<path d="M537.4 1284.6L554.9 1294.6L554.9 1317.6L537.4 1327.6L519.9 1317.6L519.9 1294.6Z"/>
<path d="M577.5 1320.1L595.0 1330.1L595.0 1353.1L577.5 1363.1L560.0 1353.1L560.0 1330.1Z"/>
<path d="M619.6 1329.7L637.1 1339.7L637.1 1362.7L619.6 1372.7L602.1 1362.7L602.1 1339.7Z"/>
<path d="M659.5 1329.7L677.0 1339.7L677.0 1362.7L659.5 1372.7L642.0 1362.7L642.0 1339.7Z"/>
<path d="M701.3 1329.7L718.8 1339.7L718.8 1362.7L701.3 1372.7L683.8 1362.7L683.8 1339.7Z"/>
<path d="M740.9 1329.7L758.4 1339.7L758.4 1362.7L740.9 1372.7L723.4 1362.7L723.4 1339.7Z"/>
<path d="M783.0 1329.7L800.5 1339.7L800.5 1362.7L783.0 1372.7L765.5 1362.7L765.5 1339.7Z"/>
<path d="M823.3 1329.7L840.8 1339.7L840.8 1362.7L823.3 1372.7L805.8 1362.7L805.8 1339.7Z"/>
<path d="M864.7 1329.7L882.2 1339.7L882.2 1362.7L864.7 1372.7L847.2 1362.7L847.2 1339.7Z"/>
<path d="M904.8 1329.7L922.3 1339.7L922.3 1362.7L904.8 1372.7L887.3 1362.7L887.3 1339.7Z"/>
<path d="M946.5 1329.7L964.0 1339.7L964.0 1362.7L946.5 1372.7L929.0 1362.7L929.0 1339.7Z"/>
<path d="M987.0 1329.7L1004.5 1339.7L1004.5 1362.7L987.0 1372.7L969.5 1362.7L969.5 1339.7Z"/>
<path d="M1028.2 1329.7L1045.7 1339.7L1045.7 1362.7L1028.2 1372.7L1010.7 1362.7L1010.7 1339.7Z"/>
<path d="M1068.8 1326.3L1086.3 1336.3L1086.3 1359.3L1068.8 1369.3L1051.3 1359.3L1051.3 1336.3Z"/>
<path d="M1110.2 1329.7L1127.7 1339.7L1127.7 1362.7L1110.2 1372.7L1092.7 1362.7L1092.7 1339.7Z"/>
<path d="M1150.5 1270.3L1168.0 1280.3L1168.0 1303.3L1150.5 1313.3L1133.0 1303.3L1133.0 1280.3Z"/>
<path d="M1192.0 1246.4L1209.5 1256.4L1209.5 1279.4L1192.0 1289.4L1174.5 1279.4L1174.5 1256.4Z"/>
<path d="M1232.3 1227.2L1249.8 1237.2L1249.8 1260.2L1232.3 1270.2L1214.8 1260.2L1214.8 1237.2Z"/>
<path d="M1274.0 1189.7L1291.5 1199.7L1291.5 1222.7L1274.0 1232.7L1256.5 1222.7L1256.5 1199.7Z"/>
<path d="M1315.6 1156.2L1333.1 1166.2L1333.1 1189.2L1315.6 1199.2L1298.1 1189.2L1298.1 1166.2Z"/>
<path d="M1355.9 1143.2L1373.4 1153.2L1373.4 1176.2L1355.9 1186.2L1338.4 1176.2L1338.4 1153.2Z"/>
<path d="M1396.0 1104.3L1413.5 1114.3L1413.5 1137.3L1396.0 1147.3L1378.5 1137.3L1378.5 1114.3Z"/>
<path d="M1437.6 1022.4L1455.1 1032.4L1455.1 1055.4L1437.6 1065.4L1420.1 1055.4L1420.1 1032.4Z"/>
<path d="M1479.4 892.6L1496.9 902.6L1496.9 925.6L1479.4 935.6L1461.9 925.6L1461.9 902.6Z"/>
<path d="M1519.6 822.9L1537.1 832.9L1537.1 855.9L1519.6 865.9L1502.1 855.9L1502.1 832.9Z"/>
<path d="M1560.5 653.5L1578.0 663.5L1578.0 686.5L1560.5 696.5L1543.0 686.5L1543.0 663.5Z"/>
<path d="M1601.8 484.1L1619.3 494.1L1619.3 517.1L1601.8 527.1L1584.3 517.1L1584.3 494.1Z"/>
<path d="M1643.0 544.9L1660.5 554.9L1660.5 577.9L1643.0 587.9L1625.5 577.9L1625.5 554.9Z"/>
<path d="M1683.3 626.9L1700.8 636.9L1700.8 659.9L1683.3 669.9L1665.8 659.9L1665.8 636.9Z"/>
<path d="M1723.6 612.6L1741.1 622.6L1741.1 645.6L1723.6 655.6L1706.1 645.6L1706.1 622.6Z"/>
<path d="M1764.9 762.8L1782.4 772.8L1782.4 795.8L1764.9 805.8L1747.4 795.8L1747.4 772.8Z"/>
<path d="M1807.8 1193.1L1825.3 1203.1L1825.3 1226.1L1807.8 1236.1L1790.3 1226.1L1790.3 1203.1Z"/>
<path d="M1845.6 1329.7L1863.1 1339.7L1863.1 1362.7L1845.6 1372.7L1828.1 1362.7L1828.1 1339.7Z"/>
<path d="M1889.8 1329.7L1907.3 1339.7L1907.3 1362.7L1889.8 1372.7L1872.3 1362.7L1872.3 1339.7Z"/>
<path d="M1912.2 1329.7L1929.7 1339.7L1929.7 1362.7L1912.2 1372.7L1894.7 1362.7L1894.7 1339.7Z"/>
</g>
</g>
<rect x="216.5" y="50.2" width="1862.9" height="1439.9" fill="none" stroke="#000" stroke-width="4.3"/>
<rect x="380.2" y="117.7" width="675.9" height="616.4" fill="#fff" stroke="#000" stroke-width="4.2"/>
<g id="legend" font-family="'Liberation Serif', 'DejaVu Serif', serif" font-size="76.5" fill="#000">
<line x1="441.2" y1="218.1" x2="613" y2="218.1" stroke="#333" stroke-width="4.2"/>
<rect x="512.2" y="203.1" width="33.8" height="33.8"/>
<text x="631.5" y="245.5">0 °C</text>
<line x1="441.2" y1="314.5" x2="613" y2="314.5" stroke="#000" stroke-width="4.2"/>
<circle cx="529.1" cy="314.9" r="17.8"/>
<text x="629.8" y="337.8">50 °C</text>
<line x1="445.3" y1="406.7" x2="613" y2="406.7" stroke="#000" stroke-width="4.2"/>
<path d="M529.1 383.0L550.6 421.5L507.6 421.5Z"/>
<text x="631.0" y="430.3">100 °C</text>
<line x1="445.3" y1="503.5" x2="613" y2="503.5" stroke="#000" stroke-width="4.2"/>
<path d="M529.1 480.4L550.6 501.9L529.1 523.4L507.6 501.9Z"/>
<text x="627.5" y="527.4">200 °C</text>
<line x1="441.2" y1="595.9" x2="613" y2="595.9" stroke="#000" stroke-width="4.2"/>
<path d="M507.1 596.1L541.6 573.1L541.6 619.1Z"/>
<text x="627.5" y="619.2">400 °C</text>
<line x1="445.3" y1="688.0" x2="613" y2="688.0" stroke="#000" stroke-width="4.2"/>
<path d="M529.1 668.9L546.6 678.9L546.6 701.9L529.1 711.9L511.6 701.9L511.6 678.9Z"/>
<text x="627.5" y="716.0">800 °C</text>
</g>
<g id="ticklabels" font-family="'Liberation Serif', 'DejaVu Serif', serif" font-weight="bold" font-size="65" fill="#000">
<text x="183" y="1505.1" text-anchor="end"><tspan font-size="52" dy="-6.6">−</tspan><tspan dy="6.6" dx="-3.2">2</tspan></text>
<text x="183" y="1370.6" text-anchor="end">0</text>
<text x="183" y="1232.0" text-anchor="end">2</text>
<text x="183" y="1093.4" text-anchor="end">4</text>
<text x="183" y="959.0" text-anchor="end">6</text>
<text x="183" y="820.6" text-anchor="end">8</text>
<text x="183" y="686.5" text-anchor="end">10</text>
<text x="183" y="548.0" text-anchor="end">12</text>
<text x="183" y="409.4" text-anchor="end">14</text>
<text x="183" y="275.1" text-anchor="end">16</text>
<text x="183" y="136.5" text-anchor="end">18</text>
<text x="369.6" y="1567.8" text-anchor="middle" letter-spacing="0">0.1</text>
<text x="768.2" y="1567.8" text-anchor="middle" letter-spacing="0">1</text>
<text x="1163.1" y="1567.8" text-anchor="middle" letter-spacing="-3">10</text>
<text x="1562.8" y="1567.8" text-anchor="middle" letter-spacing="-0.3">100</text>
<text x="1959.1" y="1567.8" text-anchor="middle" letter-spacing="-1.3">1000</text>
</g>
<g id="titles" font-family="'Liberation Serif', 'DejaVu Serif', serif" font-weight="bold" font-size="76.3" fill="#000">
<text x="1174.3" y="1664.5" text-anchor="middle">Partical size (μm)</text>
<text transform="translate(101 819.4) rotate(-90)" text-anchor="middle">Particle size distribution (%)</text>
</g>
</svg>
</body>
</html>
